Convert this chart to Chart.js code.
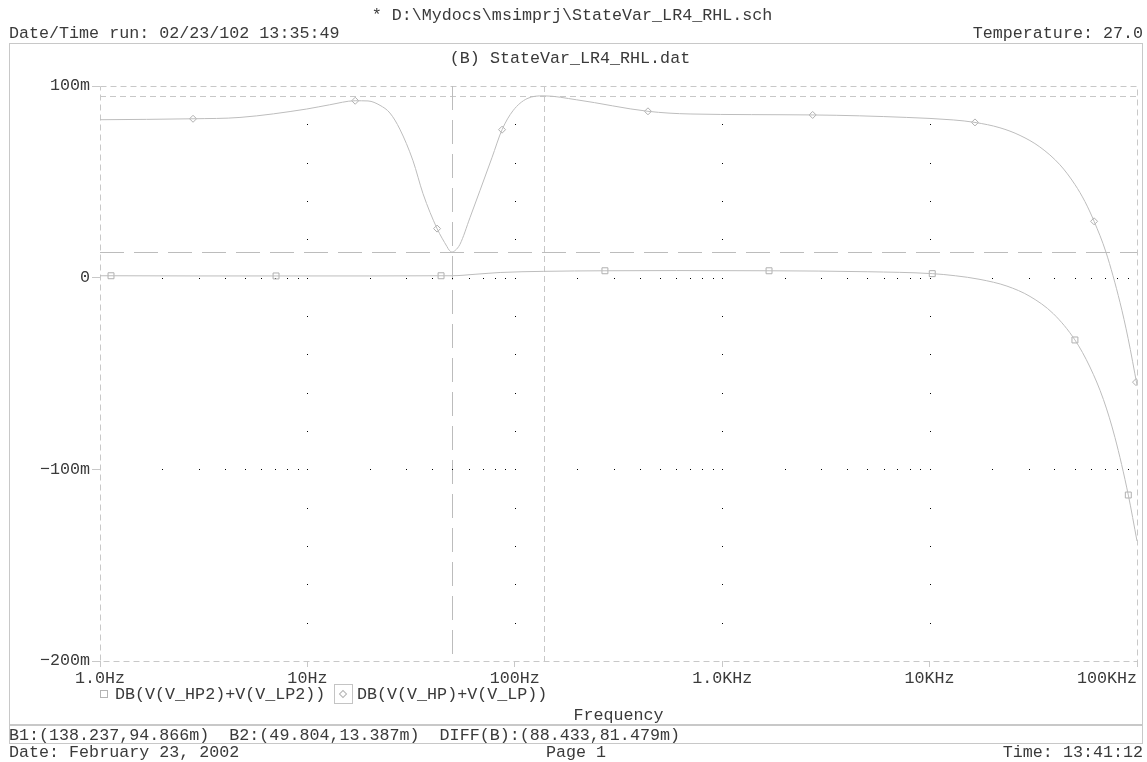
<!DOCTYPE html>
<html>
<head>
<meta charset="utf-8">
<script src="https://cdn.jsdelivr.net/npm/chart.js@4.4.1/dist/chart.umd.min.js"></script>
<style>
  html, body { margin: 0; padding: 0; background: #fff; }
  #page { position: relative; width: 1147px; height: 762px; overflow: hidden; }
  #chart { position: absolute; left: 0; top: 0; }
  .t { position: absolute; font-family: "Liberation Mono", "Courier New", monospace; font-size: 16.7px;
       line-height: 17px; color: #3a3a3a; white-space: pre; }
  .c { text-align: center; }
  .frame { position: absolute; left: 9px; top: 43px; width: 1134px; height: 701px;
           border: 1px solid #c8c8c8; box-sizing: border-box; }
  .bar { position: absolute; left: 9px; top: 724px; width: 1134px; height: 2px; background: #c8c8c8; }
  .sq { position: absolute; left: 100px; top: 690px; width: 8px; height: 8px; border: 1px solid #b4b4b4; box-sizing: border-box; }
  .sel { position: absolute; left: 334px; top: 684px; width: 19px; height: 20px; border: 1px solid #c4c4c4; box-sizing: border-box; }
  .dia { position: absolute; left: 340px; top: 691px; width: 6px; height: 6px; border: 1px solid #b4b4b4;
         box-sizing: border-box; transform: rotate(45deg); }
</style>
</head>
<body>
<div id="page">
  <div class="frame"></div>
  <div class="bar"></div>
  <canvas id="chart" width="1147" height="762"></canvas>

  <div class="t c" style="left:0; width:1144px; top:7px;">* D:\Mydocs\msimprj\StateVar_LR4_RHL.sch</div>
  <div class="t" style="left:9px; top:25px;">Date/Time run: 02/23/102 13:35:49</div>
  <div class="t" style="right:4px; top:25px;">Temperature: 27.0</div>
  <div class="t c" style="left:0; width:1140px; top:50px;">(B) StateVar_LR4_RHL.dat</div>

  <div class="sq"></div>
  <div class="t" style="left:115px; top:686px;">DB(V(V_HP2)+V(V_LP2))</div>
  <div class="sel"></div>
  <div class="dia"></div>
  <div class="t" style="left:357px; top:686px;">DB(V(V_HP)+V(V_LP))</div>
  <div class="t c" style="left:0; width:1237px; top:707px;">Frequency</div>

  <div class="t" style="left:9px; top:727px;">B1:(138.237,94.866m)  B2:(49.804,13.387m)  DIFF(B):(88.433,81.479m)</div>
  <div class="t" style="left:9px; top:744px;">Date: February 23, 2002</div>
  <div class="t c" style="left:0; width:1152px; top:744px;">Page 1</div>
  <div class="t" style="right:4px; top:744px;">Time: 13:41:12</div>
</div>

<script>
// axis ticks
const xTickVals = [1, 10, 100, 1000, 10000, 100000]
const xTickLabels = ['1.0Hz', '10Hz', '100Hz', '1.0KHz', '10KHz', '100KHz']
const yTickVals = [100, 0, -100, -200]
const yTickLabels = ['100m', '0', '\u2212100m', '\u2212200m']

// DB(V(V_HP2)+V(V_LP2))  (values in m)
const hp2Freq = [1, 1.13, 3, 7.06, 20, 44.1, 49.8, 65, 85, 138, 272, 600, 1682, 5000, 10300,
  13300, 17500, 23600, 30500, 39500, 50200, 59300, 68900, 78300, 90800, 100000]
const hp2Vals = [1.0, 1.0, 0.9, 0.9, 0.9, 1.0, 1.0, 1.8, 2.7, 3.3, 3.6, 3.7, 3.6, 3.1, 2.1,
  1.0, -0.9, -4.4, -9.8, -18.8, -32.5, -46.6, -63.6, -83.4, -113.4, -137.4]
const hp2MarkFreq = [1.13, 7.06, 44.1, 272, 1682, 10300, 50200, 90800]
const hp2MarkVals = [1.0, 0.9, 1.0, 3.6, 3.6, 2.1, -32.5, -113.4]

// DB(V(V_HP)+V(V_LP))  (values in m)
const hpFreq = [1, 2.81, 4.73, 9.93, 12.8, 17.0, 19.6, 22.4, 25.0, 27.9, 32.3, 36.1, 42.2, 47.1,
  48.3, 49.804, 51.6, 54.4, 60.8, 67.9, 77.6, 86.8, 98.0, 114.5, 138.237, 198.8, 438.6, 699.8,
  2730, 7760, 13000, 16550, 21840, 27300, 34000, 42500, 50200, 56100, 62100, 70900, 82800,
  90600, 100000]
const hpVals = [82.4, 82.9, 83.6, 88.0, 90.2, 92.3, 92.2, 89.9, 85.9, 77.5, 61.0, 43.8, 25.6, 16.2,
  14.3, 13.387, 14.2, 17.4, 31.3, 45.4, 62.6, 77.2, 87.1, 93.4, 94.866, 92.8, 86.8, 85.4,
  84.9, 83.6, 82.3, 81.0, 78.2, 74.2, 68.2, 58.9, 48.6, 39.7, 29.4, 13.2, -12.9,
  -31.7, -56.0]
const hpMarkFreq = [2.81, 17.0, 42.2, 86.8, 438.6, 2730, 16550, 62100, 98900]
const hpMarkVals = [82.9, 92.3, 25.6, 77.2, 86.8, 84.9, 81.0, 29.4, -54.5]

// probe cursors [freq, value]
const cursorB1 = [138.237, 94.866]
const cursorB2 = [49.804, 13.387]

// dotted grid
const gridDotVals = [80, 60, 40, 20, 0, -20, -40, -60, -80, -100, -120, -140, -160, -180]
const gridDotDecades = [10, 100, 1000, 10000]
const gridRowVals = [0, -100]
const gridRowMults = [2, 3, 4, 5, 6, 7, 8, 9]
const gridRowDecades = [1, 10, 100, 1000, 10000]

const pts = (xs, ys) => xs.map((x, i) => ({ x: x, y: ys[i] }))

Chart.defaults.font.family = '"Liberation Mono", "Courier New", monospace'
Chart.defaults.font.size = 16.7
Chart.defaults.color = '#3a3a3a'

const probeGrid = {
    id: 'probeGrid',
    beforeDatasetsDraw(chart) {
        const { ctx, chartArea: a, scales: { x, y } } = chart
        const px = v => Math.round(x.getPixelForValue(v)) + 0.5
        const py = v => Math.round(y.getPixelForValue(v)) + 0.5
        ctx.save()
        ctx.lineWidth = 1

        // plot frame
        ctx.strokeStyle = '#c8c8c8'
        ctx.setLineDash([6, 4])
        ctx.strokeRect(Math.round(a.left) + 0.5, Math.round(a.top) + 0.5,
            Math.round(a.right - a.left), Math.round(a.bottom - a.top))

        // cursor B1 (short dash)
        ctx.beginPath()
        ctx.moveTo(px(cursorB1[0]), a.top)
        ctx.lineTo(px(cursorB1[0]), a.bottom)
        ctx.moveTo(a.left, py(cursorB1[1]))
        ctx.lineTo(a.right, py(cursorB1[1]))
        ctx.stroke()

        // cursor B2 (long dash)
        ctx.strokeStyle = '#bcbcbc'
        ctx.setLineDash([24, 10])
        ctx.beginPath()
        ctx.moveTo(px(cursorB2[0]), a.top)
        ctx.lineTo(px(cursorB2[0]), a.bottom)
        ctx.moveTo(a.left, py(cursorB2[1]))
        ctx.lineTo(a.right, py(cursorB2[1]))
        ctx.stroke()

        // dots
        ctx.fillStyle = '#000'
        gridDotDecades.forEach(f => {
            gridDotVals.forEach(v => ctx.fillRect(px(f) - 0.5, py(v) - 0.5, 1, 1))
        })
        gridRowVals.forEach(v => {
            gridRowDecades.forEach(d => {
                gridRowMults.forEach(m => ctx.fillRect(px(d * m) - 0.5, py(v) - 0.5, 1, 1))
            })
        })
        ctx.restore()
    }
}

new Chart(document.getElementById('chart'), {
    type: 'scatter',
    data: {
        datasets: [{
            label: 'DB(V(V_HP2)+V(V_LP2))',
            data: pts(hp2Freq, hp2Vals),
            showLine: true,
            borderColor: '#bdbdbd',
            borderWidth: 1,
            pointRadius: 0,
            cubicInterpolationMode: 'monotone'
        }, {
            label: 'DB(V(V_HP)+V(V_LP))',
            data: pts(hpFreq, hpVals),
            showLine: true,
            borderColor: '#bdbdbd',
            borderWidth: 1,
            pointRadius: 0,
            cubicInterpolationMode: 'monotone'
        }, {
            label: 'hp2 marks',
            data: pts(hp2MarkFreq, hp2MarkVals),
            pointStyle: 'rect',
            pointRadius: 4.2,
            borderWidth: 1,
            borderColor: '#b0b0b0',
            backgroundColor: 'rgba(0,0,0,0)'
        }, {
            label: 'hp marks',
            data: pts(hpMarkFreq, hpMarkVals),
            pointStyle: 'rectRot',
            pointRadius: 3.5,
            borderWidth: 1,
            borderColor: '#b0b0b0',
            backgroundColor: 'rgba(0,0,0,0)'
        }]
    },
    options: {
        responsive: false,
        animation: false,
        layout: { padding: { left: 0, top: 86, right: 10, bottom: 71 } },
        scales: {
            x: {
                type: 'logarithmic',
                min: 1,
                max: 100000,
                afterBuildTicks: s => { s.ticks = xTickVals.map(v => ({ value: v })) },
                afterFit: s => { s.height = 30; s.paddingLeft = 0; s.paddingRight = 0 },
                ticks: {
                    autoSkip: false,
                    maxRotation: 0,
                    padding: 2,
                    callback: function(v) {
                        const i = xTickVals.indexOf(v)
                        // last label sits inside the frame
                        return i === xTickVals.length - 1 ? xTickLabels[i] + '      ' : xTickLabels[i]
                    }
                },
                grid: { drawOnChartArea: false, drawTicks: true, tickLength: 6, color: '#c8c8c8' },
                border: { display: false }
            },
            y: {
                min: -200,
                max: 100,
                afterBuildTicks: s => { s.ticks = yTickVals.map(v => ({ value: v })) },
                afterFit: s => { s.width = 100 },
                ticks: {
                    padding: 2,
                    callback: v => yTickLabels[yTickVals.indexOf(v)]
                },
                grid: { drawOnChartArea: false, drawTicks: true, tickLength: 8, color: '#c8c8c8' },
                border: { display: false }
            }
        },
        plugins: {
            legend: { display: false },
            title: { display: false },
            tooltip: { enabled: false }
        }
    },
    plugins: [probeGrid]
});
</script>
</body>
</html>
